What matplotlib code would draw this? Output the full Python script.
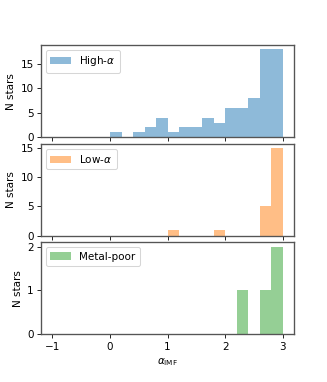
import numpy as np
import matplotlib
matplotlib.use('Agg')
import matplotlib.pyplot as plt

# histogram bins (width 0.2) from -1 to 3
bin_edges = np.round(np.arange(-1.0, 3.01, 0.2), 2)
bin_left = bin_edges[:-1]

high_alpha = [0, 0, 0, 0, 0, 1, 0, 1, 2, 4, 1, 2, 2, 4, 3, 6, 6, 8, 18, 18]
low_alpha = [0, 0, 0, 0, 0, 0, 0, 0, 0, 0, 1, 0, 0, 0, 1, 0, 0, 0, 5, 15]
metal_poor = [0, 0, 0, 0, 0, 0, 0, 0, 0, 0, 0, 0, 0, 0, 0, 0, 1, 0, 1, 2]

series = [('High-$\\alpha$', high_alpha, 'C0'),
          ('Low-$\\alpha$', low_alpha, 'C1'),
          ('Metal-poor', metal_poor, 'C2')]

plt.rcParams['axes.edgecolor'] = '#555555'
plt.rcParams['axes.linewidth'] = 1.3

# 327 x 382 px at 75 dpi
fig, axes = plt.subplots(3, 1, figsize=(327 / 75, 382 / 75), dpi=75, sharex=True)
fig.subplots_adjust(left=0.125, right=0.9, top=0.882, bottom=0.125, hspace=0.07)

for ax, (label, counts, color) in zip(axes, series):
    ax.hist(bin_left, bins=bin_edges, weights=counts, color=color, alpha=0.5,
            label=label)
    ax.set_ylabel('N stars')
    ax.legend(loc='upper left')

axes[0].set_yticks([0, 5, 10, 15])
axes[1].set_yticks([0, 5, 10, 15])
axes[2].set_yticks([0, 1, 2])
axes[2].set_xlim(-1.2, 3.2)
axes[2].set_xticks([-1, 0, 1, 2, 3])
axes[2].set_xlabel(r'$\alpha_{\rm IMF}$')

plt.savefig('out.png', dpi=75)
